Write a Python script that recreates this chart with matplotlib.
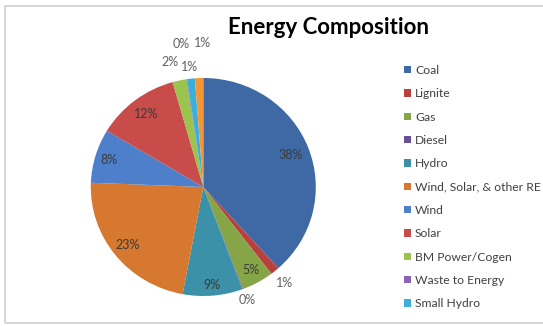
import matplotlib
matplotlib.use("Agg")
import matplotlib.pyplot as plt
import numpy as np
from matplotlib.patches import Rectangle

# ---- data ----
categories = ["Coal", "Lignite", "Gas", "Diesel", "Hydro",
              "Wind, Solar, & other RE", "Wind", "Solar",
              "BM Power/Cogen", "Waste to Energy", "Small Hydro", "Other"]
shares = [38.4, 1.3, 4.6, 0.1, 8.6, 22.7, 8.0, 12.0, 2.0, 0.1, 1.1, 1.2]
legend_count = 11  # the reference legend lists the first 11 categories
title = "Energy Composition"

# ---- style ----
colors = ["#3F69A5", "#B8403D", "#85A547", "#6B4F95", "#3A91A8", "#D6782F",
          "#4D7FCB", "#C84C4A", "#9CC34E", "#8B63B5", "#3BAEDB", "#F79535"]
label_radius = [0.83, 1.14, 0.87, 1.11, 0.90, 0.86, 0.88, 0.84, 1.17, 1.33, 1.11, 1.32]
label_dx = [0, 0, 0, 0, 0, 0, 0, 0, -0.05, 0, 0, 0.04]
FONT = ["Lato", "DejaVu Sans"]
plt.rcParams["font.family"] = FONT

W, H = 543, 326
fig = plt.figure(figsize=(W / 100, H / 100), dpi=100)

# outer chart border
fig.patches.append(Rectangle((5 / W, 3 / H), 1.0, 317 / H, transform=fig.transFigure,
                             fill=False, ec="#d0d0d0", lw=1.2))

# pie axes (pixel box of the pie)
cx, cy, rx, ry = 203.3, 187.0, 112.5, 109.0
ax = fig.add_axes([(cx - rx) / W, (H - cy - ry) / H, 2 * rx / W, 2 * ry / H])
wedges, _ = ax.pie(shares, colors=colors, startangle=90, counterclock=False,
                   radius=1.0, wedgeprops=dict(linewidth=0))
ax.set_xlim(-1, 1)
ax.set_ylim(-1, 1)
ax.set_aspect("auto")
ax.axis("off")

total = sum(shares)
cum = np.cumsum([0] + shares[:-1])
for i, s in enumerate(shares):
    theta = np.deg2rad((cum[i] + s / 2) / total * 360)
    r = label_radius[i]
    x = r * np.sin(theta) + label_dx[i]
    y = r * np.cos(theta)
    pct = s / total * 100
    ax.text(x, y, f"{int(round(pct))}%", ha="center", va="center",
            fontsize=9, color="#3a3a3a" if r < 1 else "#606060", clip_on=False)

fig.text(328.6 / W, 1 - 27.7 / H, title, ha="center", va="center",
         fontsize=16, fontweight="bold", color="black")

leg = fig.legend(wedges[:legend_count], categories[:legend_count],
                 loc="upper left", bbox_to_anchor=(404 / W, 1 - 65 / H),
                 frameon=False, fontsize=8.7, labelspacing=1.02,
                 handlelength=0.55, handleheight=0.55, handletextpad=0.35,
                 borderpad=0, borderaxespad=0)
for t in leg.get_texts():
    t.set_color("#404040")

fig.savefig("out.png", dpi=100)
